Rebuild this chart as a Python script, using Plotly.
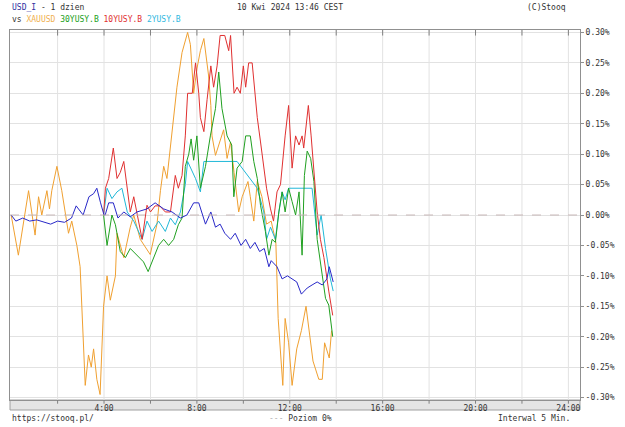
import plotly.graph_objects as go

# hours of the day and % change (5 min interval chart)
usd_t = [0.0, 0.2, 0.5, 0.8, 1.1, 1.4, 1.7, 2.0, 2.3, 2.6, 2.8, 3.1, 3.35, 3.55, 3.69, 3.85, 4.0, 4.05, 4.2, 4.4, 4.6,
         4.85, 5.13, 5.42, 5.85, 6.2, 6.57, 6.93, 7.29, 7.57, 7.86, 8.08, 8.37, 8.6, 8.8, 9.0, 9.2, 9.45, 9.65, 9.9,
         10.1, 10.3, 10.5, 10.7, 10.9, 11.1, 11.2, 11.45, 11.67, 11.9, 12.1, 12.3, 12.5, 12.75, 12.96, 13.18, 13.4,
         13.6, 13.7, 13.87]
usd_v = [0.0, -0.01, -0.005, -0.01, -0.008, -0.012, -0.015, -0.01, -0.012, -0.005, 0.015, 0.0, 0.03, 0.035, 0.044,
         0.02, 0.0, 0.0, 0.02, 0.02, -0.005, 0.005, -0.003, 0.005, 0.01, 0.02, 0.01, 0.005, -0.005, 0.0, 0.02, 0.02,
         -0.015, 0.005, -0.02, -0.015, -0.03, -0.04, -0.03, -0.05, -0.04, -0.055, -0.045, -0.06, -0.055, -0.085,
         -0.075, -0.085, -0.105, -0.1, -0.105, -0.11, -0.13, -0.12, -0.115, -0.11, -0.115, -0.105, -0.085, -0.11]

gold_t = [0.0, 0.31, 0.75, 1.03, 1.18, 1.32, 1.54, 1.65, 1.75, 1.97, 2.18, 2.47, 2.61, 2.83, 2.97, 3.19, 3.33, 3.45,
          3.55, 3.69, 3.83, 3.98, 4.13, 4.27, 4.49, 4.56, 4.85, 5.13, 5.28, 5.56, 5.99, 6.28, 6.43, 6.57, 6.71, 6.93,
          7.14, 7.36, 7.6, 7.72, 7.86, 8.0, 8.15, 8.3, 8.5, 8.6, 8.65, 8.8, 9.0, 9.15, 9.3, 9.45, 9.6, 9.8, 9.95,
          10.2, 10.3, 10.45, 10.6, 10.8, 11.0, 11.2, 11.4, 11.5, 11.7, 11.8, 11.95, 12.1, 12.3, 12.5, 12.7, 12.8,
          13.0, 13.25, 13.4, 13.5, 13.7, 13.8]
gold_v = [0.0, -0.066, 0.04, -0.033, 0.03, 0.0, 0.04, 0.01, 0.04, 0.08, 0.04, -0.03, -0.01, -0.05, -0.085, -0.28,
          -0.23, -0.25, -0.22, -0.27, -0.295, -0.15, -0.1, -0.14, -0.1, -0.03, -0.07, -0.02, 0.0, -0.04, -0.065,
          -0.015, 0.04, 0.08, 0.06, 0.14, 0.21, 0.267, 0.3, 0.28, 0.2, 0.24, 0.27, 0.29, 0.23, 0.18, 0.13, 0.098,
          0.12, 0.14, 0.093, 0.12, 0.07, 0.005, 0.03, 0.055, 0.03, -0.01, 0.055, 0.03, -0.015, -0.01, -0.045, -0.17,
          -0.28, -0.17, -0.21, -0.28, -0.22, -0.19, -0.15, -0.18, -0.24, -0.27, -0.27, -0.21, -0.235, -0.19]

y30_t = [3.98, 4.13, 4.34, 4.49, 4.7, 4.92, 5.13, 5.42, 5.7, 5.9, 6.14, 6.35, 6.57, 6.78, 7.0, 7.2, 7.36, 7.5, 7.65,
         7.75, 7.86, 8.0, 8.15, 8.37, 8.58, 8.8, 8.94, 9.08, 9.3, 9.5, 9.59, 9.73, 9.95, 10.1, 10.3, 10.45, 10.6,
         10.74, 10.95, 11.1, 11.24, 11.38, 11.53, 11.67, 11.8, 11.95, 12.1, 12.25, 12.4, 12.53, 12.63, 12.75, 12.9,
         13.04, 13.18, 13.32, 13.54, 13.68, 13.85]
y30_v = [0.0, -0.05, 0.0, -0.016, -0.06, -0.07, -0.055, -0.066, -0.077, -0.093, -0.07, -0.05, -0.04, -0.05, -0.04,
         -0.016, -0.005, 0.08, 0.1, 0.125, 0.09, 0.13, 0.044, 0.08, 0.13, 0.175, 0.235, 0.175, 0.13, 0.115, 0.03,
         0.077, 0.088, 0.13, 0.13, 0.088, 0.06, 0.016, -0.027, -0.066, -0.04, -0.045, 0.005, 0.038, 0.005, 0.044,
         0.022, 0.0, 0.038, -0.066, 0.065, 0.105, 0.093, 0.055, -0.04, -0.08, -0.137, -0.148, -0.2]

y10_t = [3.98, 4.06, 4.2, 4.4, 4.56, 4.7, 4.85, 5.0, 5.13, 5.28, 5.5, 5.64, 5.85, 6.0, 6.2, 6.4, 6.64, 6.86, 7.07,
         7.2, 7.36, 7.5, 7.6, 7.8, 7.94, 8.08, 8.15, 8.3, 8.44, 8.6, 8.72, 8.87, 9.0, 9.2, 9.37, 9.45, 9.6, 9.73,
         9.87, 10.0, 10.1, 10.23, 10.38, 10.6, 10.74, 10.88, 11.0, 11.17, 11.3, 11.45, 11.6, 11.8, 11.95, 12.1,
         12.25, 12.4, 12.53, 12.6, 12.8, 12.92, 13.04, 13.18, 13.32, 13.47, 13.68, 13.85]
y10_v = [0.0, 0.044, 0.06, 0.11, 0.06, 0.07, 0.088, 0.038, 0.005, 0.03, -0.016, -0.04, 0.016, 0.005, 0.015, 0.015,
         0.005, 0.005, 0.065, 0.044, 0.065, 0.13, 0.2, 0.2, 0.25, 0.2, 0.16, 0.137, 0.19, 0.245, 0.21, 0.245, 0.295,
         0.295, 0.27, 0.295, 0.2, 0.21, 0.2, 0.245, 0.21, 0.25, 0.25, 0.16, 0.12, 0.077, 0.044, 0.01, -0.01, 0.038,
         0.05, 0.13, 0.18, 0.077, 0.13, 0.115, 0.13, 0.11, 0.18, 0.13, 0.077, 0.005, -0.04, -0.07, -0.125, -0.165]

y2_t = [3.98, 4.13, 4.34, 4.56, 4.77, 5.0, 5.28, 5.64, 5.85, 6.07, 6.35, 6.64, 6.86, 7.07, 7.29, 7.5, 7.6, 7.94,
        8.15, 8.3, 9.73, 10.6, 10.88, 11.0, 11.17, 11.38, 11.53, 11.67, 11.8, 11.95, 12.96, 13.18, 13.35, 13.54,
        13.75, 13.87]
y2_v = [0.0, 0.044, 0.027, 0.038, 0.044, 0.005, -0.01, -0.04, -0.01, -0.027, -0.01, -0.027, -0.005, -0.016,
        0.005, 0.05, 0.088, 0.06, 0.038, 0.088, 0.088, 0.044, 0.005, -0.04, -0.02, -0.04, 0.005, 0.038, 0.025,
        0.044, 0.044, -0.033, 0.0, -0.055, -0.105, -0.125]

y_ticks = [0.30, 0.25, 0.20, 0.15, 0.10, 0.05, 0.0, -0.05, -0.10, -0.15, -0.20, -0.25, -0.30]
x_ticks = [4, 8, 12, 16, 20, 24]
x_labels = ["4:00", "8:00", "12:00", "16:00", "20:00", "24:00"]

MONO = "DejaVu Sans Mono"
PL, PR, PT, PB = 10, 580, 30, 400  # plot area in window pixels

fig = go.Figure()
fig.add_hline(y=0, line=dict(color="#c8b8b8", width=1, dash="dash"))

series = [
    (gold_t, gold_v, "XAUUSD", "#f0a030"),
    (y2_t, y2_v, "2YUSY.B", "#20b8d8"),
    (y30_t, y30_v, "30YUSY.B", "#20a020"),
    (y10_t, y10_v, "10YUSY.B", "#e03030"),
    (usd_t, usd_v, "USD_I", "#2828c8"),
]
for t, v, name, col in series:
    fig.add_trace(go.Scatter(x=t, y=v, name=name, mode="lines", line=dict(color=col, width=1)))

band = 10 / (PB - PT)
fig.add_shape(type="rect", xref="paper", yref="paper", x0=0, x1=1, y0=-band, y1=0,
              fillcolor="#e4e4e4", line=dict(color="#a0a0a0", width=1), layer="below")

fig.update_layout(
    width=625, height=427,
    margin=dict(l=PL, r=625 - PR, t=PT, b=427 - PB, pad=0),
    paper_bgcolor="white", plot_bgcolor="white",
    showlegend=False,
    font=dict(family=MONO, size=8, color="#333333"),
    xaxis=dict(range=[-0.05, 24.5], tickvals=x_ticks, ticktext=x_labels,
               showgrid=False, zeroline=False, showline=True, linecolor="#909090", mirror=True,
               ticks="", ticklabelstandoff=0),
    yaxis=dict(range=[-0.304, 0.304], side="right", tickvals=y_ticks,
               ticktext=["%.2f%%" % v for v in y_ticks],
               showgrid=True, gridcolor="#e2e2e2", zeroline=False,
               showline=True, linecolor="#909090", mirror=True, ticks="outside", ticklen=3,
               tickcolor="#909090"),
)
# vertical grid every 2 hours, small ticks on top and bottom
for h in range(2, 25, 2):
    fig.add_vline(x=h, line=dict(color="#e2e2e2", width=1), layer="below")
    fig.add_shape(type="line", xref="x", yref="paper", x0=h, x1=h, y0=1, y1=0.985,
                  line=dict(color="#808080", width=1))
    fig.add_shape(type="line", xref="x", yref="paper", x0=h, x1=h, y0=0, y1=-0.01,
                  line=dict(color="#808080", width=1))

texts = [
    (10, 8, "<span style='color:#3030a0'>USD_I</span> - 1 dzien", "left"),
    (290, 8, "10 Kwi 2024 13:46 CEST", "center"),
    (568, 8, "(C)Stooq", "right"),
    (10, 19, "vs <span style='color:#f0b050'>XAUUSD</span> <span style='color:#20a020'>30YUSY.B</span> "
             "<span style='color:#e03030'>10YUSY.B</span> <span style='color:#30b8e0'>2YUSY.B</span>", "left"),
    (10, 418, "https://stooq.pl/", "left"),
    (300, 418, "<span style='color:#b0b0b0'>---</span> Poziom 0%", "center"),
    (572, 418, "Interwal 5 Min.", "right"),
]
for px_x, px_y, txt, anchor in texts:
    fig.add_annotation(x=(px_x - PL) / (PR - PL), y=(PB - px_y) / (PB - PT), xref="paper", yref="paper",
                       text=txt, showarrow=False, xanchor=anchor, yanchor="middle",
                       font=dict(family=MONO, size=8, color="#333333"))

# drop the default 8px page margin so the figure sits in the window corner
fig.write_html("out.html", config={"displayModeBar": False},
               post_script="document.body.style.margin='0';")
